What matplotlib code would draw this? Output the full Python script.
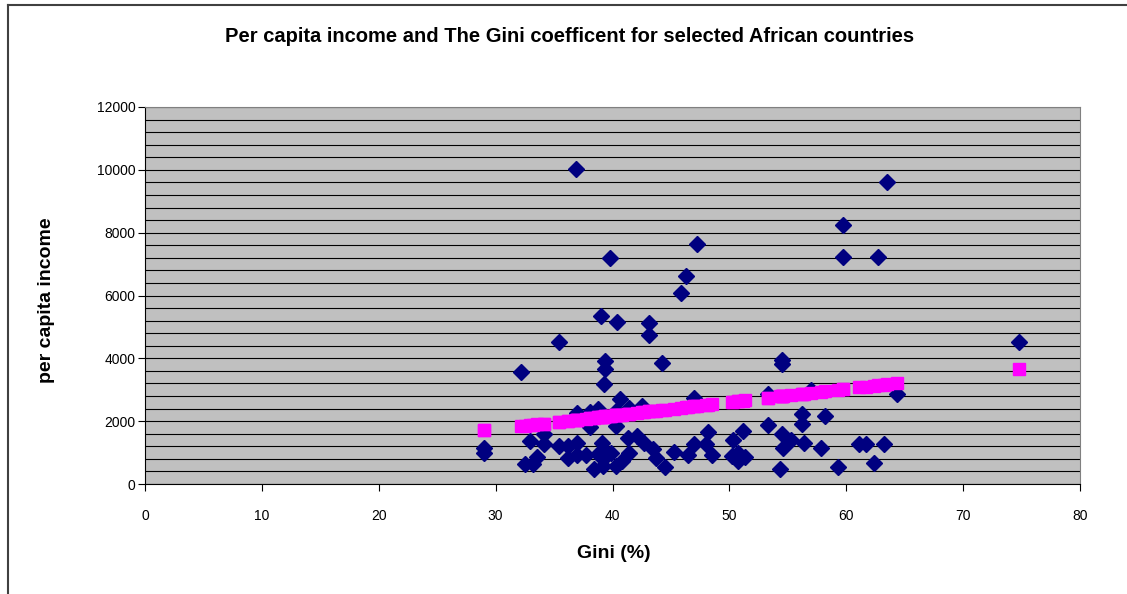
import numpy as np
import matplotlib
matplotlib.use("Agg")
import matplotlib.pyplot as plt
from matplotlib.ticker import MultipleLocator
from matplotlib.lines import Line2D

# Gini (%) and per capita income
gini = [29.0, 29.0, 32.2, 32.5, 32.9, 33.2, 33.5, 34.1, 34.1, 35.4,
        35.4, 36.2, 36.2, 36.9, 37.0, 37.0, 37.0, 37.7, 38.1, 38.1,
        38.4, 38.8, 38.8, 39.0, 39.1, 39.2, 39.3, 39.4, 39.4, 39.6,
        39.8, 39.9, 40.3, 40.3, 40.3, 40.4, 40.6, 40.8, 41.3, 41.4,
        41.4, 42.1, 42.5, 42.7, 43.1, 43.1, 43.5, 43.7, 44.2, 44.5,
        45.3, 45.9, 46.3, 46.5, 47.0, 47.0, 47.2, 48.0, 48.2, 48.5,
        50.2, 50.3, 50.7, 50.7, 51.2, 51.3, 53.3, 53.3, 54.3, 54.5,
        54.5, 54.5, 54.6, 55.3, 56.2, 56.2, 56.4, 57.0, 57.8, 58.2,
        59.3, 59.7, 59.7, 61.1, 61.7, 62.4, 62.7, 63.2, 63.5, 64.3,
        74.8]
income = [1160, 1000, 3550, 650, 1370, 630, 860, 1600, 1270, 1210,
          4510, 1210, 840, 10020, 1290, 925, 2270, 925, 2280, 1800,
          470, 2380, 950, 5360, 1320, 570, 3190, 3930, 3660, 950,
          7200, 1000, 2330, 1850, 560, 5160, 2710, 730, 1480, 2430,
          1000, 1530, 2490, 1320, 5120, 4750, 1110, 840, 3850, 550,
          1020, 6070, 6610, 920, 2740, 1270, 7630, 1270, 1660, 920,
          890, 1390, 1000, 730, 1690, 870, 2870, 1870, 490, 3950,
          3820, 1590, 1160, 1390, 2220, 1920, 1320, 2990, 1160, 2170,
          550, 8230, 7210, 1270, 1270, 660, 7210, 1270, 9600, 2860,
          4510]

x_ticks = [0, 10, 20, 30, 40, 50, 60, 70, 80]
y_ticks = [0, 2000, 4000, 6000, 8000, 10000, 12000]

plt.rcParams['font.family'] = ['Liberation Sans', 'DejaVu Sans']

fig = plt.figure(figsize=(11.27, 5.94), dpi=100)
ax = fig.add_axes([145 / 1127, 1 - 484 / 594, 935 / 1127, 377 / 594])

# predicted income from a linear fit (the pink series)
g = np.array(gini)
coef = np.polyfit(g, np.array(income), 1)
predicted = np.polyval(coef, g)

ax.set_facecolor('#C0C0C0')
ax.set_xlim(0, 80)
ax.set_ylim(0, 12000)
ax.set_xticks(x_ticks)
ax.set_yticks(y_ticks)
ax.yaxis.set_minor_locator(MultipleLocator(400))
ax.set_xticklabels([str(t) for t in x_ticks], fontsize=10)
ax.set_yticklabels([str(t) for t in y_ticks], fontsize=10)
ax.grid(axis='y', which='both', color='black', linewidth=0.8)
ax.set_axisbelow(True)
ax.tick_params(axis='y', which='minor', length=0)
ax.tick_params(axis='both', which='major', direction='out', length=5, color='black')
ax.tick_params(axis='x', pad=13)
ax.tick_params(axis='y', pad=2)

for side in ['top', 'right']:
    ax.spines[side].set_color('#808080')
for side in ['left', 'bottom']:
    ax.spines[side].set_color('black')

ax.plot(gini, income, linestyle='none', marker='D', markersize=8,
        color='#000080', clip_on=False)
ax.plot(gini, predicted, linestyle='none', marker='s', markersize=9,
        color='#FF00FF', clip_on=False)

fig.text(570 / 1127, 1 - 37 / 594,
         'Per capita income and The Gini coefficent for selected African countries',
         ha='center', va='center', fontsize=14.5, fontweight='bold')
fig.text(47 / 1127, 1 - 300 / 594, 'per capita income', rotation=90,
         ha='center', va='center', fontsize=14, fontweight='bold')
fig.text(614 / 1127, 1 - 553 / 594, 'Gini (%)',
         ha='center', va='center', fontsize=14, fontweight='bold')

# chart border (left and top only visible)
fig.add_artist(Line2D([8 / 1127, 8 / 1127], [0, 1 - 5 / 594],
                      transform=fig.transFigure, color='#404040', lw=1.5))
fig.add_artist(Line2D([8 / 1127, 1], [1 - 5 / 594, 1 - 5 / 594],
                      transform=fig.transFigure, color='#404040', lw=1.5))

fig.savefig('out.png', dpi=100, facecolor='white')
